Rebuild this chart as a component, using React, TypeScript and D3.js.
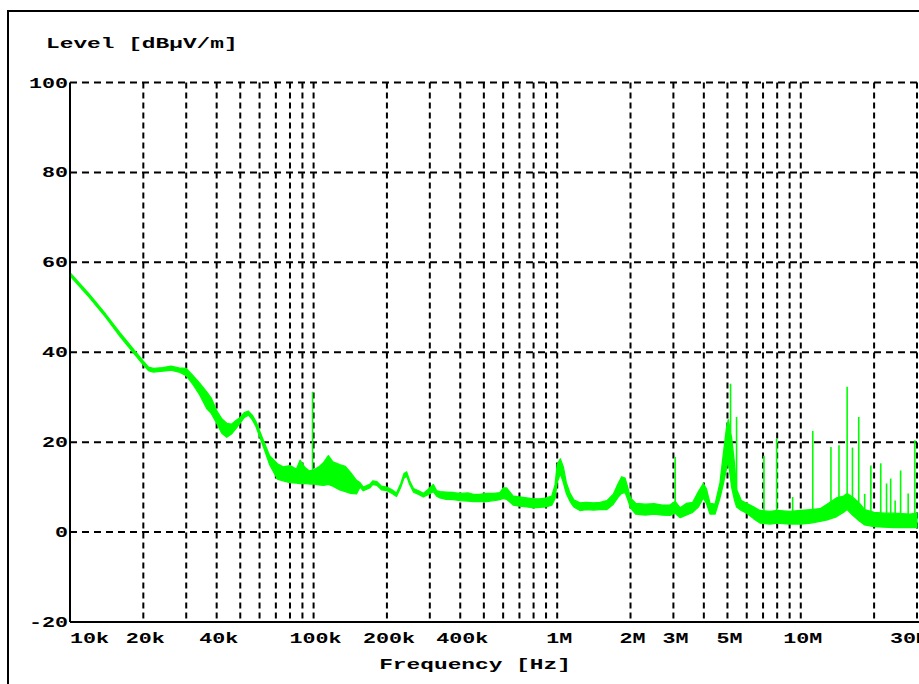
import React from 'react';
import * as d3 from 'd3';

// Trace envelope (frequency in kHz, level min / max in dBµV/m)
const freqK = [10, 12, 14, 16, 18, 20, 21, 22, 24, 26, 28, 30, 32, 34, 36.4, 38, 40, 42, 44, 46, 48, 50, 52, 54, 56, 58, 62, 66, 71, 75, 80, 85, 88, 92, 96, 100, 105, 110, 115, 120, 128, 135, 142, 150, 155, 160, 170, 175, 182, 190, 200, 210, 219, 228, 235, 241, 248, 257, 270, 282, 295, 310, 320, 330, 350, 375, 400, 430, 453, 480, 513, 550, 582, 600, 620, 660, 700, 750, 800, 850, 900, 950, 980, 1000, 1030, 1060, 1090, 1130, 1170, 1240, 1320, 1410, 1500, 1600, 1700, 1780, 1840, 1900, 1950, 2000, 2100, 2300, 2500, 2700, 2900, 3050, 3200, 3400, 3600, 3800, 3980, 4100, 4240, 4450, 4660, 4800, 4950, 5040, 5200, 5350, 5450, 5700, 6000, 6400, 6800, 7500, 8000, 9000, 10000, 11000, 12000, 13000, 14000, 15000, 15500, 16300, 17300, 18300, 20000, 22000, 24000, 26000, 28000, 30000];
const levelLo = [57.0, 52.2, 47.8, 43.6, 40.2, 37.2, 35.9, 35.6, 35.8, 36.0, 35.6, 34.8, 32.8, 30.6, 27.5, 26.4, 24.2, 22.0, 21.1, 21.8, 23.0, 24.3, 25.5, 26.0, 25.0, 23.5, 19.2, 15.0, 11.8, 11.4, 11.0, 10.9, 10.8, 10.8, 10.7, 10.7, 10.5, 10.4, 10.6, 10.2, 9.4, 9.0, 8.6, 8.5, 10.0, 9.2, 9.8, 10.6, 10.4, 9.4, 9.2, 8.6, 7.9, 10.0, 12.0, 12.5, 10.6, 8.9, 8.4, 7.8, 8.3, 9.0, 8.0, 7.6, 7.3, 7.2, 7.0, 6.9, 6.8, 6.8, 6.8, 7.0, 7.2, 7.5, 7.3, 6.0, 5.8, 5.6, 5.4, 5.5, 5.6, 6.0, 7.5, 11.0, 13.0, 11.0, 8.6, 6.8, 5.6, 4.8, 5.0, 4.9, 5.0, 5.0, 6.2, 7.8, 8.6, 8.8, 7.2, 5.4, 4.0, 3.8, 4.0, 3.8, 3.7, 4.2, 3.2, 3.8, 4.4, 5.6, 7.6, 6.4, 4.0, 4.0, 7.6, 10.5, 14.0, 16.0, 10.0, 7.0, 5.6, 4.8, 4.2, 3.0, 2.0, 1.8, 2.0, 1.8, 1.8, 2.0, 2.4, 2.8, 3.4, 4.4, 5.0, 3.8, 2.6, 1.6, 1.2, 1.1, 1.0, 1.0, 1.0, 1.0];
const levelHi = [57.7, 52.9, 48.5, 44.4, 41.0, 38.0, 36.7, 36.4, 36.6, 36.9, 36.5, 36.4, 34.8, 33.2, 31.2, 29.8, 27.0, 25.2, 24.2, 24.0, 24.8, 25.5, 26.6, 26.9, 26.0, 24.6, 20.6, 17.0, 15.2, 14.5, 14.8, 14.0, 16.0, 14.4, 13.6, 13.8, 14.5, 15.5, 17.0, 15.6, 15.0, 14.6, 13.2, 11.5, 11.0, 10.0, 10.6, 11.4, 11.2, 10.2, 10.0, 9.4, 8.7, 10.8, 13.0, 13.4, 11.4, 9.7, 9.2, 8.6, 9.5, 10.6, 9.2, 9.0, 8.9, 8.8, 8.6, 8.7, 8.4, 8.4, 8.6, 8.6, 8.8, 9.8, 9.8, 8.0, 7.8, 7.6, 7.4, 7.4, 7.6, 8.0, 10.5, 15.0, 16.3, 14.5, 11.0, 8.6, 7.2, 6.5, 6.6, 6.5, 6.6, 7.0, 8.4, 10.8, 12.3, 12.0, 9.8, 7.6, 6.4, 6.2, 6.3, 6.0, 6.0, 6.8, 5.4, 6.4, 6.6, 9.0, 10.8, 9.6, 6.4, 6.2, 11.0, 17.0, 23.0, 25.0, 21.0, 15.0, 9.5, 7.0, 6.4, 5.6, 4.8, 4.6, 4.8, 4.6, 4.8, 5.0, 5.2, 6.4, 7.6, 8.0, 8.6, 7.8, 6.6, 5.0, 4.4, 4.2, 4.2, 4.1, 4.0, 4.2];

// Narrow spikes (frequency in kHz, peak level)
const spikeFreqK = [99, 3050, 5150, 5450, 7060, 7960, 9260, 11200, 13300, 14350, 15500, 16300, 17300, 18300, 19400, 21300, 22500, 23400, 24400, 25700, 27600, 29400];
const spikeLevel = [31.2, 16.7, 33.0, 25.6, 17.0, 20.8, 7.8, 22.5, 18.9, 19.3, 32.3, 18.8, 25.6, 8.5, 14.8, 15.3, 10.8, 11.9, 7.0, 13.7, 8.6, 20.4];

// Axis ticks
const yTicks = [100, 80, 60, 40, 20, 0, -20];
const xTickValues = [1e4, 2e4, 4e4, 1e5, 2e5, 4e5, 1e6, 2e6, 3e6, 5e6, 1e7, 3e7];
const xTickLabels = ['10k', '20k', '40k', '100k', '200k', '400k', '1M', '2M', '3M', '5M', '10M', '30M'];

const W = 919, H = 684;
const X0 = 70, X1 = 917, Y0 = 82.5, Y1 = 622;
const x = d3.scaleLog().domain([1e4, 3e7]).range([X0, X1]);
const y = d3.scaleLinear().domain([-20, 100]).range([Y1, Y0]);

const FONT = "'Liberation Mono', 'DejaVu Sans Mono', monospace";

function Label({ x: tx, y: ty, anchor = 'start', sx = 1.55, children }: any) {
  return (
    <text
      transform={`translate(${tx},${ty}) scale(${sx},1)`}
      textAnchor={anchor}
      fontFamily={FONT}
      fontSize={14}
      fontWeight="bold"
      fill="#000"
    >
      {children}
    </text>
  );
}

export default function App() {
  const rows = freqK.map((f, i) => ({ f: f * 1000, lo: levelLo[i], hi: levelHi[i] }));
  const area = d3
    .area<any>()
    .x((d) => x(d.f))
    .y0((d) => y(d.lo))
    .y1((d) => y(d.hi));

  const bis = d3.bisector((d: any) => d.f).left;
  const hiAt = (f: number) => {
    const i = Math.max(1, Math.min(rows.length - 1, bis(rows, f)));
    const a = rows[i - 1], b = rows[i];
    const t = (Math.log(f) - Math.log(a.f)) / (Math.log(b.f) - Math.log(a.f));
    return a.hi + (b.hi - a.hi) * Math.max(0, Math.min(1, t));
  };

  const gridX: number[] = [];
  [1e4, 1e5, 1e6, 1e7].forEach((dec) => {
    for (let m = 1; m <= 9; m++) {
      const f = m * dec;
      if (f > 1e4 && f <= 3e7) gridX.push(f);
    }
  });
  const gridY = [100, 80, 60, 40, 20, 0];

  return (
    <svg
      width={W}
      height={H}
      style={{ position: 'absolute', left: 0, top: 0, background: '#fff' }}
    >
      <rect x={0} y={0} width={W} height={H} fill="#fff" />
      <rect x={8} y={11} width={1000} height={1000} fill="none" stroke="#000" strokeWidth={2} />

      {gridX.map((f) => (
        <line
          key={'gx' + f}
          x1={x(f)}
          x2={x(f)}
          y1={Y0}
          y2={Y1}
          stroke="#000"
          strokeWidth={2}
          strokeDasharray="6,4"
        />
      ))}
      {gridY.map((v) => (
        <line
          key={'gy' + v}
          x1={X0}
          x2={X1 + 2}
          y1={y(v)}
          y2={y(v)}
          stroke="#000"
          strokeWidth={2}
          strokeDasharray="7,5"
        />
      ))}

      <path d={area(rows) || ''} fill="#00ff00" stroke="#00ff00" strokeWidth={1.3} strokeLinejoin="round" />
      {spikeFreqK.map((fk, i) => (
        <line
          key={'sp' + i}
          x1={x(fk * 1000)}
          x2={x(fk * 1000)}
          y1={y(hiAt(fk * 1000))}
          y2={y(spikeLevel[i])}
          stroke="#00ff00"
          strokeWidth={1.6}
        />
      ))}

      <line x1={X0} x2={X0} y1={Y0} y2={Y1} stroke="#000" strokeWidth={2} />
      <line x1={X0} x2={X1 + 2} y1={Y1} y2={Y1} stroke="#000" strokeWidth={2} />

      {yTicks.map((v) => (
        <Label key={'yl' + v} x={68} y={y(v) + 5} anchor="end">
          {v < 0 ? '-' + Math.abs(v) : String(v)}
        </Label>
      ))}
      {xTickValues.map((f, i) => {
        const lab = xTickLabels[i];
        if (i === 0) return <Label key={lab} x={X0} y={643}>{lab}</Label>;
        if (i === xTickValues.length - 1) return <Label key={lab} x={890} y={643}>{lab}</Label>;
        return (
          <Label key={lab} x={x(f) + 2} y={643} anchor="middle">
            {lab}
          </Label>
        );
      })}

      <Label x={46} y={48} sx={1.63}>Level [dBµV/m]</Label>
      <Label x={475} y={669} anchor="middle" sx={1.63}>Frequency [Hz]</Label>
    </svg>
  );
}
